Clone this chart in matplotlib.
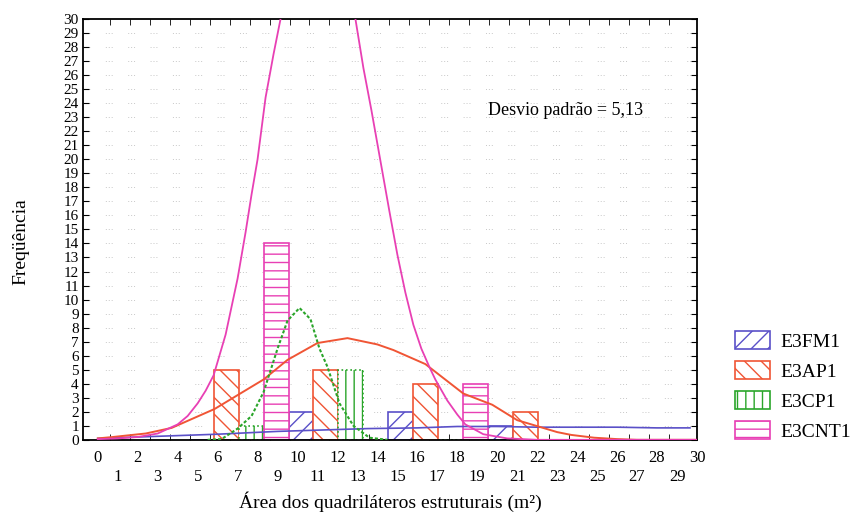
import matplotlib
matplotlib.use("Agg")
import matplotlib.pyplot as plt
from matplotlib.patches import Patch

plt.rcParams['font.family'] = ['Liberation Serif', 'DejaVu Serif']
plt.rcParams['hatch.linewidth'] = 1.0

# histogram groups (left edge of each group of four bars)
group_left = [4.55, 9.55, 14.55, 19.55]
bar_w = 1.25

series = ['E3FM1', 'E3AP1', 'E3CP1', 'E3CNT1']
colors = ['#5a50c8', '#f05535', '#2aa52a', '#e840b4']
hatches = ['//', '\\\\', '||', '--']

fm1 = [0, 2, 2, 1]
ap1 = [5, 5, 4, 2]
cp1 = [1, 5, 0, 0]
cnt1 = [14, 0, 4, 0]

# fitted curves
fm1_x = [0, 2, 4, 6, 9, 13.5, 16, 18, 20, 22, 24, 26, 28, 29.65]
fm1_y = [0.1, 0.2, 0.3, 0.4, 0.6, 0.8, 0.85, 0.95, 0.95, 0.9, 0.9, 0.9, 0.85, 0.85]

ap1_x = [0, 0.75, 2.4, 3.7, 5.85, 8.3, 9.5, 11, 12.5, 14, 14.8, 16.4, 18.3, 19.75, 21, 23, 23.7, 24.85, 26, 27, 30]
ap1_y = [0.1, 0.2, 0.45, 0.85, 2.2, 4.3, 5.7, 6.9, 7.25, 6.8, 6.4, 5.4, 3.3, 2.5, 1.4, 0.55, 0.35, 0.15, 0.05, 0.0, 0.0]

cp1_x = [5.5, 6.2, 7.0, 7.7, 8.3, 9.0, 9.5, 10.1, 10.65, 11.1, 11.5, 12.1, 12.8, 13.6, 14.5]
cp1_y = [0.0, 0.05, 0.8, 1.7, 3.4, 6.5, 8.5, 9.4, 8.6, 6.5, 5.2, 2.6, 1.0, 0.15, 0.0]

cnt1_x = [0, 1, 2, 3, 4, 4.5, 5, 5.4, 5.8, 6.4, 7.0, 7.4, 7.7, 8.0, 8.4, 8.8, 9.15, 11.0,
          12.9, 13.3, 13.7, 14.2, 14.6, 15.0, 15.4, 15.8, 16.2, 16.6, 16.9,
          17.5, 18.0, 18.4, 19.3, 20.5, 22, 30]
cnt1_y = [0.05, 0.1, 0.2, 0.45, 1.1, 1.7, 2.6, 3.5, 4.6, 7.5, 11.5, 14.8, 17.5, 20, 24.4, 27.5, 30, 38,
          30, 26.5, 23.5, 19.5, 16.3, 13.2, 10.5, 8.2, 6.5, 5.2, 4.3,
          2.8, 1.8, 1.1, 0.4, 0.1, 0.0, 0.0]

fig = plt.figure(figsize=(8.61, 5.15), dpi=100)
ax = fig.add_axes([0.0964, 0.146, 0.7131, 0.817])

# dotted grid
for yv in range(1, 30):
    ax.axhline(yv, color='#c8c8c8', lw=0.7, ls=(0, (1, 2, 1, 2, 1, 16)), zorder=0)

vals = [fm1, ap1, cp1, cnt1]
for i in range(4):
    xs = [g + i * bar_w for g in group_left]
    ax.bar(xs, vals[i], width=bar_w, align='edge', facecolor='white',
           edgecolor=colors[i], hatch=hatches[i], lw=1.2,
           ls=':' if i == 2 else '-', zorder=2)

ax.plot(fm1_x, fm1_y, color=colors[0], lw=1.2, zorder=3)
ax.plot(ap1_x, ap1_y, color=colors[1], lw=1.4, zorder=3)
ax.plot(cp1_x, cp1_y, color=colors[2], lw=1.5, ls=(0, (1.5, 1)), zorder=3)
ax.plot(cnt1_x, cnt1_y, color=colors[3], lw=1.3, zorder=3)

ax.set_xlim(-0.74, 29.65)
ax.set_ylim(0, 30)

ax.set_yticks(range(0, 31))
ax.tick_params(axis='y', which='major', direction='in', length=4, right=True,
               labelsize=11, pad=3)
ax.set_xticks(range(0, 31))
ax.set_xticklabels([str(v) for v in range(0, 31)])
ax.tick_params(axis='x', which='major', length=0, labelsize=12)
for t in ax.xaxis.get_major_ticks():
    v = t.get_loc()
    t.set_pad(7 if int(round(v)) % 2 == 0 else 21)
ax.set_xticks([v + 0.6 for v in range(0, 29)], minor=True)
ax.tick_params(axis='x', which='minor', direction='in', length=4, top=True)

for s in ax.spines.values():
    s.set_linewidth(1.3)

ax.text(23.4, 23.5, 'Desvio padrão = 5,13', fontsize=13, ha='center', va='center')

ax.set_ylabel('Freqüência', fontsize=14)
ax.yaxis.set_label_coords(-0.088, 0.47)
fig.text(0.453, 0.005, 'Área dos quadriláteros estruturais (m²)', fontsize=14,
         ha='center', va='bottom')

handles = [Patch(facecolor='white', edgecolor=colors[i], hatch=hatches[i], lw=1.2)
           for i in range(4)]
fig.legend(handles, series, loc='upper left', bbox_to_anchor=(0.845, 0.372),
           frameon=False, fontsize=14, handlelength=1.8, handleheight=1.0,
           labelspacing=0.55, handletextpad=0.5, borderaxespad=0)

fig.savefig('out.png', dpi=100)
